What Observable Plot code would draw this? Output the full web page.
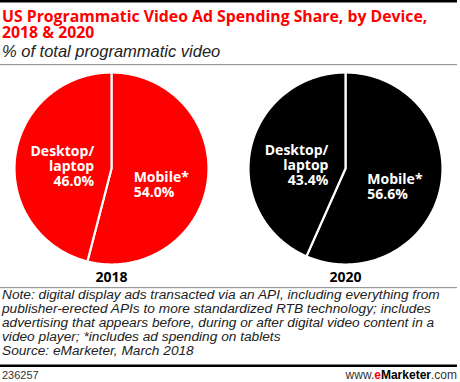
<!DOCTYPE html>
<html><head><meta charset="utf-8">
<script src="https://cdn.jsdelivr.net/npm/d3@7"></script>
<script src="https://cdn.jsdelivr.net/npm/@observablehq/plot@0.6"></script>
<style>
body{margin:0;background:#fff;}
#wrap{position:relative;width:460px;height:382px;overflow:hidden;}
#chrome{position:absolute;left:0;top:0;}
#plot{position:absolute;left:0;top:66px;}
</style></head><body>
<div id="wrap"><svg id="chrome" width="460" height="382"></svg><div id="plot"></div></div>
<script>
// ---- data ----
const years = [2018, 2020];
const mobileShare = [54.0, 56.6];
const desktopShare = [46.0, 43.4];
const yearColors = ["#ff0000", "#000000"];
const titleLines = ["US Programmatic Video Ad Spending Share, by Device,", "2018 & 2020"];
const subtitle = "% of total programmatic video";
const noteLines = [
  "Note: digital display ads transacted via an API, including everything from",
  "publisher-erected APIs to more standardized RTB technology; includes",
  "advertising that appears before, during or after digital video content in a",
  "video player; *includes ad spending on tablets",
  "Source: eMarketer, March 2018"
];
const chartId = "236257";

// ---- build slices (geometry from shares) ----
const slicePts = [];
const labelsMobile = [];
const labelsDesktop = [];
years.forEach((yr, i) => {
  const slices = [
    {device: "Mobile*", share: mobileShare[i]},
    {device: "Desktop/laptop", share: desktopShare[i]}
  ];
  let a0 = 0;
  slices.forEach(s => {
    const a1 = a0 + s.share / 100 * 2 * Math.PI;
    const key = yr + "-" + s.device;
    slicePts.push({year: yr, key, x: 0, y: 0});
    const n = Math.max(2, Math.ceil((a1 - a0) / (Math.PI / 360)));
    for (let k = 0; k <= n; k++) {
      const a = a0 + (a1 - a0) * k / n;
      slicePts.push({year: yr, key, x: Math.sin(a), y: Math.cos(a)});
    }
    slicePts.push({year: yr, key, x: 0, y: 0});
    const mid = (a0 + a1) / 2;
    const txt = (s.device === "Mobile*" ? "Mobile*" : "Desktop/\nlaptop") + "\n" + s.share.toFixed(1) + "%";
    const r = s.device === "Mobile*" ? 0.23 : 0.18;
    const lab = {year: yr, text: txt, x: Math.sin(mid) * r, y: Math.cos(mid) * r};
    (s.device === "Mobile*" ? labelsMobile : labelsDesktop).push(lab);
    a0 = a1;
  });
});

const labelFont = {fontFamily: "Open Sans", fontWeight: "bold", fontSize: 14, fill: "white", lineHeight: 1.08};

const chart = Plot.plot({
  width: 460, height: 221,
  marginLeft: 13, marginRight: 17, marginTop: 6, marginBottom: 23,
  style: {fontFamily: "Open Sans", background: "transparent", overflow: "visible"},
  fx: {domain: years, padding: 0.17},
  x: {domain: [-1, 1], axis: null},
  y: {domain: [-1, 1], axis: null},
  color: {domain: years, range: yearColors},
  marks: [
    Plot.line(slicePts, {fx: "year", x: "x", y: "y", z: "key", fill: "year", stroke: "white", strokeWidth: 2.2, strokeLinejoin: "round"}),
    Plot.text(labelsDesktop, {fx: "year", x: "x", y: "y", text: "text", textAnchor: "end", lineAnchor: "middle", ...labelFont}),
    Plot.text(labelsMobile, {fx: "year", x: "x", y: "y", text: "text", textAnchor: "start", lineAnchor: "top", ...labelFont}),
    Plot.axisFx({anchor: "bottom", tickSize: 0, tickPadding: 8, label: null, fontSize: 14, fontWeight: "bold", fontFamily: "Open Sans", fill: "#000", tickFormat: d => String(d)})
  ]
});
document.getElementById("plot").appendChild(chart);

// ---- chrome: title, subtitle, rules, notes, footer ----
const svg = d3.select("#chrome");
svg.append("rect").attr("x", 0).attr("y", 0).attr("width", 457).attr("height", 2.5).attr("fill", "#000");
svg.selectAll("text.title").data(titleLines).join("text")
  .attr("x", 2).attr("y", (d, i) => 22 + i * 16)
  .attr("font-family", "Open Sans").attr("font-weight", "bold").attr("font-size", 15.8)
  .attr("fill", "#ff0000").text(d => d);
svg.append("text").attr("x", 2).attr("y", 57)
  .attr("font-family", "Liberation Sans").attr("font-style", "italic").attr("font-size", 16.5)
  .attr("fill", "#222").text(subtitle);
svg.append("rect").attr("x", 0).attr("y", 64).attr("width", 457).attr("height", 1.2).attr("fill", "#999");
svg.append("rect").attr("x", 0).attr("y", 287).attr("width", 457).attr("height", 1.2).attr("fill", "#999");
svg.selectAll("text.note").data(noteLines).join("text")
  .attr("x", 2).attr("y", (d, i) => 299 + i * 14)
  .attr("font-family", "Liberation Sans").attr("font-style", "italic").attr("font-size", 13.7)
  .attr("fill", "#222").text(d => d);
svg.append("rect").attr("x", 0).attr("y", 364.5).attr("width", 457).attr("height", 2.5).attr("fill", "#000");
svg.append("text").attr("x", 2).attr("y", 379)
  .attr("font-family", "Liberation Sans").attr("font-size", 11).attr("fill", "#333").text(chartId);
const ft = svg.append("text").attr("x", 457).attr("y", 379).attr("text-anchor", "end")
  .attr("font-family", "Liberation Sans").attr("font-size", 12).attr("fill", "#333");
ft.append("tspan").text("www.");
ft.append("tspan").attr("font-weight", "bold").attr("fill", "#ff0000").text("e");
ft.append("tspan").attr("font-weight", "bold").attr("fill", "#000").text("Marketer");
ft.append("tspan").text(".com");
</script>
</body></html>
